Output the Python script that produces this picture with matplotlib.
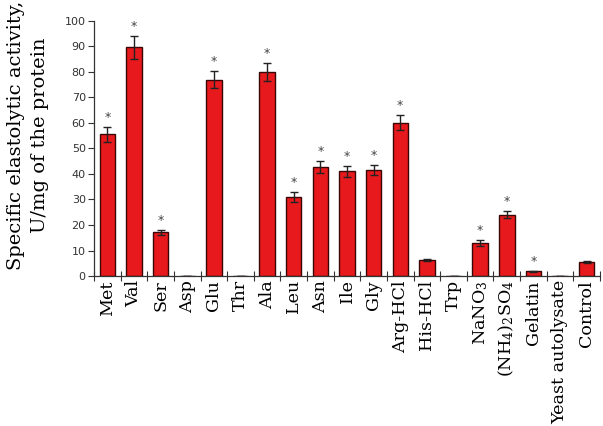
import numpy as np
import matplotlib
matplotlib.use("Agg")
import matplotlib.pyplot as plt

plt.rcParams["font.family"] = "DejaVu Serif"
plt.rcParams["mathtext.fontset"] = "dejavuserif"

# ── data ────────────────────────────────────────────────────────────────
labels = ["Met", "Val", "Ser", "Asp", "Glu", "Thr", "Ala", "Leu", "Asn", "Ile",
          "Gly", "Arg-HCl", "His-HCl", "Trp", "NaNO$_3$", "(NH$_4$)$_2$SO$_4$",
          "Gelatin", "Yeast autolysate", "Control"]
values = [55.5, 89.7, 17.1, 0, 77.0, 0, 79.8, 31.1, 42.7, 41.0,
          41.5, 60.1, 6.2, 0, 12.9, 24.1, 1.8, 0, 5.4]
errors = [3.0, 4.5, 1.0, 0, 3.5, 0, 3.5, 2.0, 2.5, 2.0,
          2.0, 3.0, 0.4, 0, 1.2, 1.5, 0.3, 0, 0.4]
signif = [1, 1, 1, 0, 1, 0, 1, 1, 1, 1, 1, 1, 0, 0, 1, 1, 1, 0, 0]
yticks = list(range(0, 101, 10))

fig = plt.figure(figsize=(6.03, 4.26), dpi=100)
ax = fig.add_axes([0.156, 0.352, 0.839, 0.599])

x = np.arange(len(labels))
ax.bar(x, values, width=0.58, color="#e8191c", edgecolor="#3a0505", linewidth=1.0,
       yerr=errors, error_kw=dict(ecolor="#222222", elinewidth=1.0, capsize=3, capthick=1.0))
for xi, v, e, s in zip(x, values, errors, signif):
    if s:
        ax.text(xi, v + e + 1.2, "*", ha="center", va="bottom", fontsize=9,
                color="#444444", family="DejaVu Sans")

ax.set_xlim(-0.5, len(labels) - 0.5)
ax.set_ylim(0, 100)
ax.set_yticks(yticks)
ax.set_yticklabels([str(t) for t in yticks], fontsize=8, family="DejaVu Sans")
ax.tick_params(axis="y", direction="out", length=4, width=0.8, pad=2, colors="#333333")
ax.set_xticks(x)
ax.set_xticklabels(labels, rotation=90, fontsize=12.6, va="top")
ax.tick_params(axis="x", length=0, pad=3)
ax.set_xticks(np.arange(len(labels) + 1) - 0.5, minor=True)
ax.tick_params(axis="x", which="minor", direction="inout", length=7, width=0.8, color="#333333")

for side in ["top", "right"]:
    ax.spines[side].set_visible(False)
for side in ["left", "bottom"]:
    ax.spines[side].set_color("#333333")
    ax.spines[side].set_linewidth(0.9)

fig.text(0.046, 0.682, "Specific elastolytic activity,\nU/mg of the protein",
         rotation=90, ha="center", va="center", fontsize=14, linespacing=1.45)

fig.savefig("out.png", dpi=100)
